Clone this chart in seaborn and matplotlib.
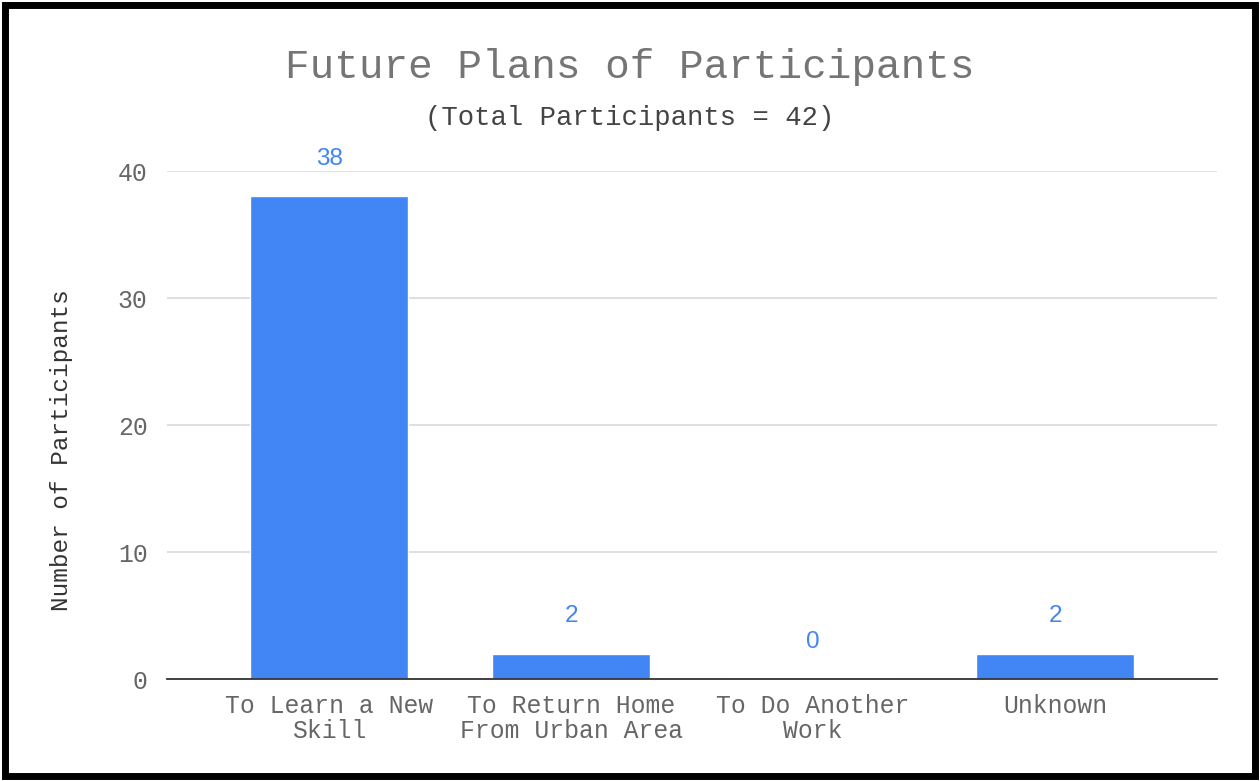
import matplotlib
matplotlib.use("Agg")
import matplotlib.pyplot as plt
import seaborn as sns
import pandas as pd
from matplotlib.patches import Rectangle

# chart data
plans = ["To Learn a New\nSkill", "To Return Home\nFrom Urban Area", "To Do Another\nWork", "Unknown"]
counts = [38, 2, 0, 2]
y_ticks = [0, 10, 20, 30, 40]

BLUE = "#4285F4"
GREY = "#757575"
MONO = "Liberation Mono"


def main():
    sns.set_style("white")
    df = pd.DataFrame({"plan": plans, "count": counts})

    fig = plt.figure(figsize=(12.6, 7.81), dpi=100)
    ax = fig.add_axes([0.1325, 0.1306, 0.8335, 0.6504])

    sns.barplot(data=df, x="plan", y="count", color=BLUE, saturation=1,
                width=0.655, ax=ax, zorder=3)

    ax.set_xlim(-0.67, 3.67)
    ax.set_ylim(0, 40)
    ax.set_yticks(y_ticks)
    ax.grid(axis="y", color="#d9d9d9", linewidth=1.2, zorder=0)
    for s in ["top", "right", "left"]:
        ax.spines[s].set_visible(False)
    ax.spines["bottom"].set_color("#333333")
    ax.spines["bottom"].set_linewidth(1.3)
    ax.spines["bottom"].set_zorder(4)
    ax.tick_params(axis="both", length=0, colors="#666666")
    ax.tick_params(axis="x", pad=11)
    ax.tick_params(axis="y", pad=14)
    for lbl in ax.get_xticklabels() + ax.get_yticklabels():
        lbl.set_fontfamily(MONO)
        lbl.set_fontsize(17.8)
    for lbl in ax.get_xticklabels():
        lbl.set_linespacing(1.02)

    ax.set_xlabel("")
    ax.set_ylabel("Number of Participants", family=MONO, fontsize=17.6,
                  color="#333333")
    ax.yaxis.set_label_coords(-0.089, 0.451)

    # value labels above bars
    for i, v in enumerate(counts):
        ax.annotate(str(v), (i, v), xytext=(0, 27), textcoords="offset points",
                    ha="center", va="center", color=BLUE,
                    family="Liberation Sans", fontsize=17.5)

    fig.text(0.5, 1 - 67 / 781, "Future Plans of Participants", ha="center",
             va="center", family=MONO, fontsize=29.5, color=GREY)
    fig.text(0.5, 1 - 118 / 781, "(Total Participants = 42)", ha="center",
             va="center", family=MONO, fontsize=19.6, color="#444444")

    # black frame around the whole picture
    fig.patches.append(Rectangle((0.004, 0.006), 0.992, 0.988, transform=fig.transFigure,
                                 fill=False, edgecolor="black", linewidth=5))

    fig.savefig("out.png", dpi=100)


if __name__ == "__main__":
    main()
